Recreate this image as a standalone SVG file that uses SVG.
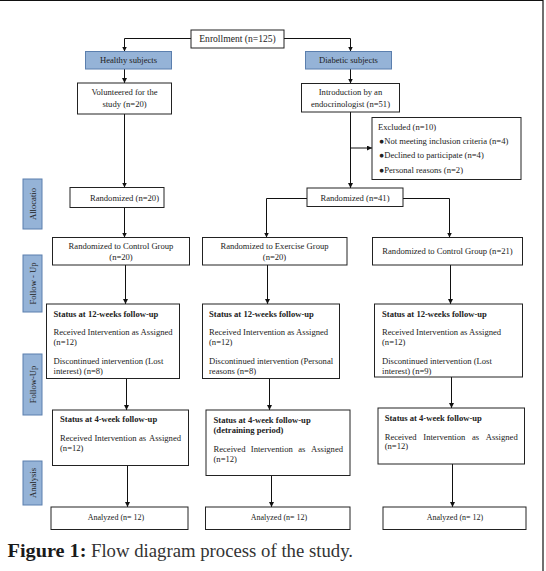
<svg xmlns="http://www.w3.org/2000/svg" width="546" height="571" viewBox="0 0 546 571">
<style>
.b{fill:#fff;stroke:#222;stroke-width:1}
.bl{fill:#95b3d7;stroke:#5b7fae;stroke-width:1}
.t{font-family:"Liberation Serif","Times New Roman",serif;font-size:8.6px;fill:#222}
.c{text-anchor:middle}
.e{text-anchor:end}
.bd{font-weight:bold}
.ln{fill:none;stroke:#111;stroke-width:1}
.cap{font-family:"Liberation Serif","Times New Roman",serif;font-size:18px}
</style>
<defs>
<marker id="ah" viewBox="0 0 6 6" markerWidth="5" markerHeight="5" refX="6" refY="3" orient="auto" markerUnits="userSpaceOnUse">
<path d="M0,0 L6,3 L0,6 z" fill="#111"/>
</marker>
</defs>
<rect width="546" height="571" fill="#fff"/>
<path d="M0,0.5 H543 V571" fill="none" stroke="#111" stroke-width="1.2"/>

<g id="side-labels">
<g id="lbl-allocation"><rect class="bl" x="23" y="179" width="19" height="50"/><text class="t c" transform="translate(35.5,204) rotate(-90)">Allocatio</text></g>
<g id="lbl-followup1"><rect class="bl" x="23" y="255" width="19" height="57"/><text class="t c" transform="translate(35.5,283.5) rotate(-90)">Follow - Up</text></g>
<g id="lbl-followup2"><rect class="bl" x="23" y="354" width="19" height="61"/><text class="t c" transform="translate(35.5,384.5) rotate(-90)">Follow-Up</text></g>
<g id="lbl-analysis"><rect class="bl" x="23" y="461" width="19" height="44"/><text class="t c" transform="translate(35.5,483) rotate(-90)">Analysis</text></g>
</g>

<g id="connectors">
<path class="ln" d="M191,38.5 H124.5 V51.5" marker-end="url(#ah)"/>
<path class="ln" d="M284,38.5 H350.5 V51.5" marker-end="url(#ah)"/>
<path class="ln" d="M124.5,69 V83" marker-end="url(#ah)"/>
<path class="ln" d="M350.5,69 V83.5" marker-end="url(#ah)"/>
<path class="ln" d="M124.5,114 V187.5" marker-end="url(#ah)"/>
<path class="ln" d="M350.5,112 V188" marker-end="url(#ah)"/>
<path class="ln" d="M350.5,148 H372" marker-end="url(#ah)"/>
<path class="ln" d="M124.5,207.5 V237.5" marker-end="url(#ah)"/>
<path class="ln" d="M307,198.5 H266.5 V237.5" marker-end="url(#ah)"/>
<path class="ln" d="M403,198.5 H449.5 V237.5" marker-end="url(#ah)"/>
<path class="ln" d="M125.5,265 V304" marker-end="url(#ah)"/>
<path class="ln" d="M267.5,265 V304" marker-end="url(#ah)"/>
<path class="ln" d="M450.5,265 V304" marker-end="url(#ah)"/>
<path class="ln" d="M126.5,378.5 V410" marker-end="url(#ah)"/>
<path class="ln" d="M269.5,378.5 V410" marker-end="url(#ah)"/>
<path class="ln" d="M451.5,377 V408" marker-end="url(#ah)"/>
<path class="ln" d="M127.5,465.5 V507" marker-end="url(#ah)"/>
<path class="ln" d="M271.5,475.5 V507" marker-end="url(#ah)"/>
<path class="ln" d="M452.5,464 V507" marker-end="url(#ah)"/>
</g>

<g id="enrollment"><rect class="b" x="191" y="30" width="93" height="18"/><text class="t c" x="237.5" y="42" style="font-size:9.6px">Enrollment (n=125)</text></g>
<g id="healthy"><rect class="bl" x="85.5" y="51.5" width="86" height="17.5"/><text class="t c" x="128.5" y="63">Healthy subjects</text></g>
<g id="diabetic"><rect class="bl" x="305.5" y="51.5" width="86" height="17.5"/><text class="t c" x="348.5" y="63">Diabetic subjects</text></g>
<g id="volunteered"><rect class="b" x="77.5" y="83" width="94" height="31"/><text class="t c" x="124.5" y="94.5">Volunteered for the</text><text class="t c" x="124.5" y="107">study (n=20)</text></g>
<g id="introduction"><rect class="b" x="301.5" y="83.5" width="98" height="28.5"/><text class="t c" x="350.5" y="94.5">Introduction by an</text><text class="t c" x="350.5" y="107">endocrinologist (n=51)</text></g>
<g id="excluded"><rect class="b" x="372" y="117.5" width="149" height="62"/>
<text class="t" x="378" y="129.5">Excluded (n=10)</text>
<text class="t" x="379" y="144">●Not meeting inclusion criteria (n=4)</text>
<text class="t" x="379" y="158">●Declined to participate (n=4)</text>
<text class="t" x="379" y="172.5">●Personal reasons (n=2)</text></g>
<g id="randomized20"><rect class="b" x="70" y="187.5" width="94" height="20"/><text class="t c" x="124.5" y="200.5">Randomized (n=20)</text></g>
<g id="randomized41"><rect class="b" x="307" y="188" width="96" height="18.5"/><text class="t c" x="355" y="200.5">Randomized (n=41)</text></g>
<g id="control20"><rect class="b" x="52.5" y="237.5" width="137" height="27.5"/><text class="t c" x="121" y="249">Randomized to Control Group</text><text class="t c" x="121" y="260">(n=20)</text></g>
<g id="exercise"><rect class="b" x="202.5" y="237.5" width="144.5" height="27.5"/><text class="t c" x="274.5" y="249">Randomized to Exercise Group</text><text class="t c" x="274.5" y="260">(n=20)</text></g>
<g id="control21"><rect class="b" x="372.5" y="237.5" width="150" height="27.5"/><text class="t c" x="447.5" y="254">Randomized to Control Group (n=21)</text></g>

<g id="status12-1"><rect class="b" x="46.5" y="304" width="133" height="74.5"/>
<text class="t bd" x="53.5" y="316.5">Status at 12-weeks follow-up</text>
<text class="t" x="53.5" y="335">Received Intervention as Assigned</text>
<text class="t" x="53.5" y="345">(n=12)</text>
<text class="t" x="53.5" y="363.5">Discontinued intervention (Lost</text>
<text class="t" x="53.5" y="374">interest) (n=8)</text></g>
<g id="status12-2"><rect class="b" x="202.5" y="304" width="137" height="74.5"/>
<text class="t bd" x="209" y="316.5">Status at 12-weeks follow-up</text>
<text class="t" x="209" y="335">Received Intervention as Assigned</text>
<text class="t" x="209" y="345">(n=12)</text>
<text class="t" x="209" y="363.5">Discontinued intervention (Personal</text>
<text class="t" x="209" y="374">reasons (n=8)</text></g>
<g id="status12-3"><rect class="b" x="374.5" y="304" width="148" height="73"/>
<text class="t bd" x="382" y="316.5">Status at 12-weeks follow-up</text>
<text class="t" x="382" y="335">Received Intervention as Assigned</text>
<text class="t" x="382" y="345">(n=12)</text>
<text class="t" x="382" y="363.5">Discontinued intervention (Lost</text>
<text class="t" x="382" y="374">interest) (n=9)</text></g>

<g id="status4-1"><rect class="b" x="52.5" y="410" width="136" height="55.5"/>
<text class="t bd" x="60" y="421.5">Status at 4-week  follow-up</text>
<text class="t" x="60" y="440.5">Received</text><text class="t" x="94.5" y="440.5">Intervention</text><text class="t" x="139" y="440.5">as</text><text class="t e" x="181" y="440.5">Assigned</text>
<text class="t" x="60" y="450.5">(n=12)</text></g>
<g id="status4-2"><rect class="b" x="206" y="410" width="144" height="65.5"/>
<text class="t bd" x="213.5" y="422.5">Status at 4-week  follow-up</text>
<text class="t bd" x="213.5" y="433">(detraining period)</text>
<text class="t" x="213.5" y="451.5">Received</text><text class="t" x="250.8" y="451.5">Intervention</text><text class="t" x="298.2" y="451.5">as</text><text class="t e" x="343" y="451.5">Assigned</text>
<text class="t" x="213.5" y="461.5">(n=12)</text></g>
<g id="status4-3"><rect class="b" x="378" y="408" width="146.5" height="56"/>
<text class="t bd" x="384.7" y="421">Status at 4-week  follow-up</text>
<text class="t" x="384.7" y="439.5">Received</text><text class="t" x="423.3" y="439.5">Intervention</text><text class="t" x="471.9" y="439.5">as</text><text class="t e" x="517.7" y="439.5">Assigned</text>
<text class="t" x="384.7" y="449">(n=12)</text></g>

<g id="analyzed-1"><rect class="b" x="51" y="507" width="137" height="22.5"/><text class="t c" x="116" y="519.5" style="font-size:8px">Analyzed (n= 12)</text></g>
<g id="analyzed-2"><rect class="b" x="205.5" y="507" width="144.5" height="22.5"/><text class="t c" x="279" y="519.5" style="font-size:8px">Analyzed (n= 12)</text></g>
<g id="analyzed-3"><rect class="b" x="383" y="507" width="143" height="22.5"/><text class="t c" x="455" y="519.5" style="font-size:8px">Analyzed (n= 12)</text></g>

<g id="caption">
<text class="cap" x="7.5" y="557" font-weight="bold" fill="#1a1a1a" textLength="79" lengthAdjust="spacingAndGlyphs">Figure 1:</text>
<text class="cap" x="91" y="557" fill="#333" textLength="262" lengthAdjust="spacingAndGlyphs">Flow diagram process of the study.</text>
</g>
</svg>
